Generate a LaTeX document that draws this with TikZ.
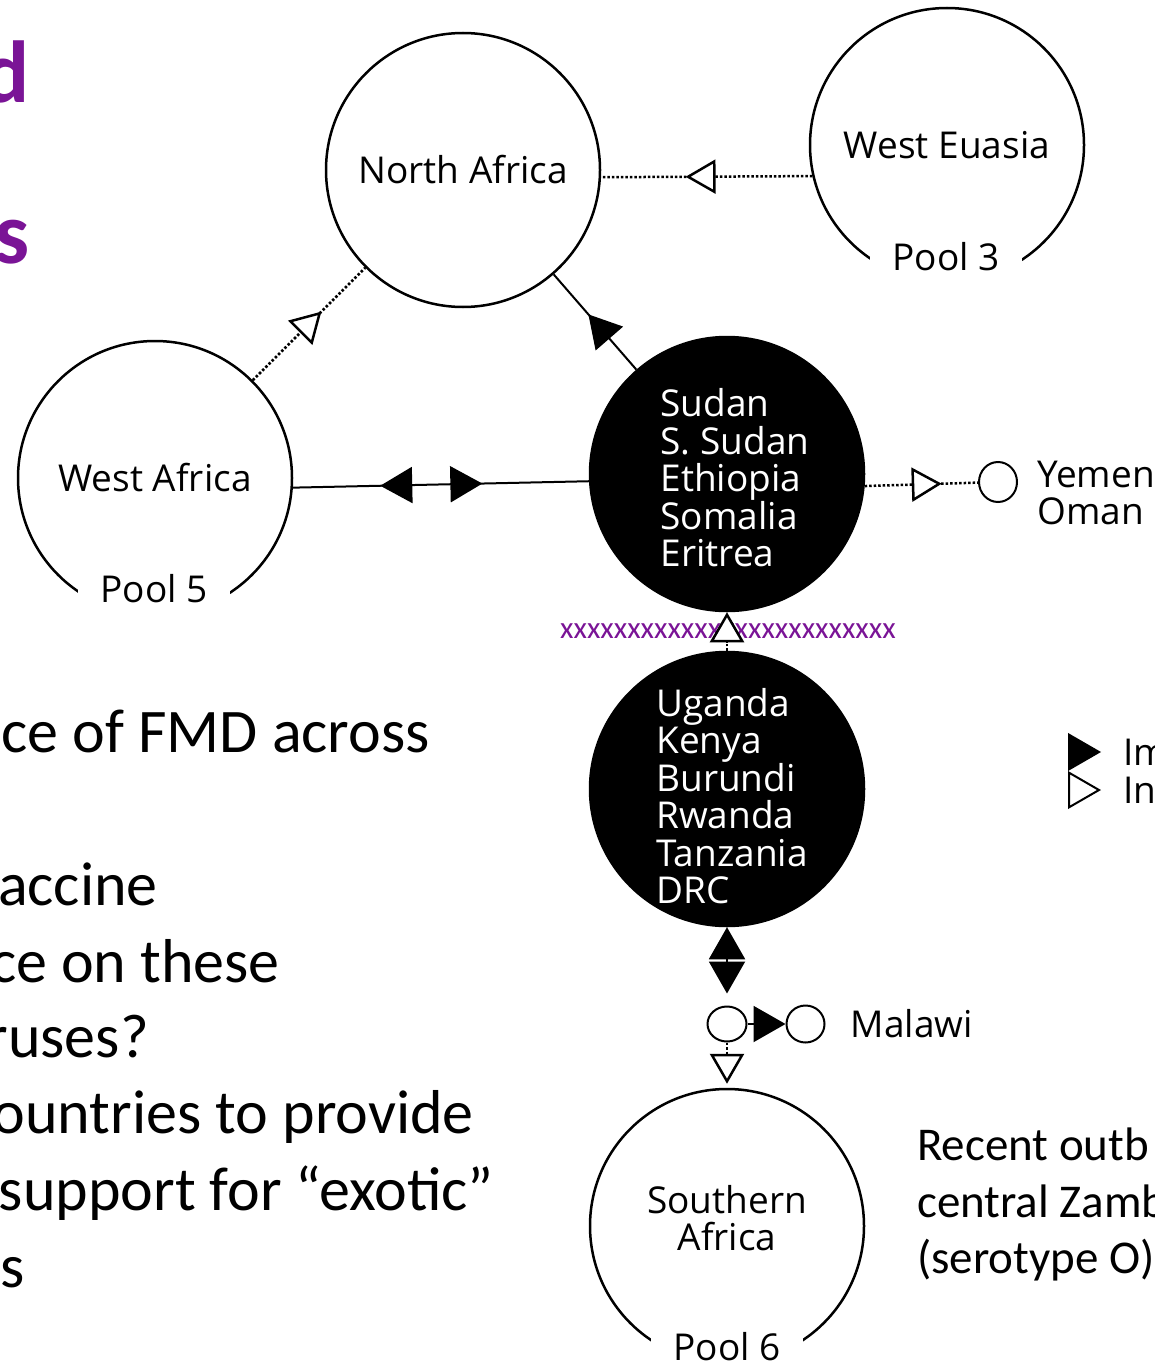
\documentclass[tikz,border=0pt]{standalone}
\usepackage{fontspec}
\setmainfont{Carlito}
\newfontfamily\lblfont{Open Sans}
\usepackage{tikz}
\usetikzlibrary{shapes.geometric,arrows.meta,positioning,decorations.markings}
\definecolor{titlepurple}{RGB}{122,20,150}
\newcommand{\pxsize}[2]{\fontsize{#1}{#2}\selectfont}
\tikzset{
    ImpHead/.tip={Triangle[length=32pt, width=36pt]},
    InfHead/.tip={Triangle[length=30pt, width=34pt, fill=white, line width=2.5pt]},
    midimp/.style={postaction={decorate, decoration={markings, mark=at position #1 with {\arrow{ImpHead}}}}},
    midimprev/.style={postaction={decorate, decoration={markings, mark=at position #1 with {\arrowreversed{ImpHead}}}}},
    midinf/.style={postaction={decorate, decoration={markings, mark=at position #1 with {\arrow{InfHead}}}}}
}
\begin{document}
\begin{tikzpicture}[
    x=1pt, y=-1pt,
    pool/.style={circle, draw, line width=2.5pt, minimum size=274pt, inner sep=0pt, align=center, font=\lblfont\pxsize{37}{37.5}},
    pooldark/.style={pool, fill=black},
    darktext/.style={inner sep=0pt, text=white, align=left, font=\lblfont\pxsize{37}{37.5}},
    poollbl/.style={fill=white, inner xsep=22pt, inner ysep=16pt, font=\lblfont\pxsize{37}{37.5}},
    lbl/.style={inner sep=0pt, align=left, font=\lblfont\pxsize{37}{37.5}},
    dot/.style={ellipse, draw, line width=2pt, minimum width=38pt, minimum height=37pt, inner sep=0pt},
    legtri/.style={regular polygon, regular polygon sides=3, shape border rotate=-90, draw, line width=2pt, minimum size=40pt, inner sep=0pt},
    link/.style={line width=2pt},
    weak/.style={line width=2.5pt, dash pattern=on 2.5pt off 2pt},
    body/.style={inner sep=0pt, font=\pxsize{62}{72}},
    note/.style={inner sep=0pt, font=\pxsize{47}{56}},
    heading/.style={inner sep=0pt, text=titlepurple, font=\bfseries\pxsize{88}{100}},
    barrier/.style={inner sep=0pt, text=titlepurple, font=\pxsize{31}{31}}
]
    \useasboundingbox (0,0) rectangle (1155,1362);
    \clip (0,0) rectangle (1155,1362);

    % slide text
    \node [heading, anchor=base east] (t1) at (30,103) {d};
    \node [heading, anchor=base east] (t2) at (30,263) {s};
    \node [body, anchor=base east] (b1) at (430,752) {ce of FMD across};
    \node [body, anchor=base east] (b2) at (158,905) {accine};
    \node [body, anchor=base east] (b3) at (280,982) {ce on these};
    \node [body, anchor=base east] (b4) at (149,1057) {ruses?};
    \node [body, anchor=base east] (b5) at (474,1133) {ountries to provide};
    \node [body, anchor=base east] (b6) at (494,1210) {support for “exotic”};
    \node [body, anchor=base east] (b7) at (25,1287) {s};
    \node [note, anchor=base west] (r1) at (917,1160) {Recent outb};
    \node [note, anchor=base west] (r2) at (917,1217) {central Zamb};
    \node [note, anchor=base west] (r3) at (917,1273) {(serotype O)};

    % pools
    \node [pool] (na) at (463,170) {North Africa};
    \node [pool] (we) at (947,145) {West Euasia};
    \node [pool] (wa) at (155,478) {West Africa};
    \node [pool] (sa) at (727,1226) {Southern\\Africa\rule[-16pt]{0pt}{16pt}};
    \node [poollbl] (welbl) at (946,257) {Pool 3};
    \node [poollbl] (walbl) at (154,589) {Pool 5};
    \node [poollbl] (salbl) at (727,1347) {Pool 6};
    \node [pooldark] (sd) at (727,474) {};
    \node [darktext] (sdtext) at (735,478) {Sudan\\S. Sudan\\Ethiopia\\Somalia\\Eritrea};
    \node [pooldark] (ug) at (727,789) {};
    \node [darktext] (ugtext) at (732,796) {Uganda\\Kenya\\Burundi\\Rwanda\\Tanzania\\DRC};

    % small countries
    \node [dot, minimum height=40pt] (ye) at (998,482) {};
    \node [lbl, right=19pt of ye, yshift=-11pt] (yelbl) {Yemen\\Oman};
    \node [dot, minimum width=39pt, minimum height=35pt] (jn) at (727,1024) {};
    \node [dot, right=38pt of jn] (ml) {};
    \node [lbl, right=25pt of ml] (mllbl) {Malawi};

    % legend
    \node [legtri, fill=black] (lgimp) at (1079,752) {};
    \node [legtri, fill=white] (lginf) at (1079,790) {};
    \node [lbl, right=22pt of lgimp] (lgimplbl) {Im};
    \node [lbl, right=22pt of lginf] (lginflbl) {In};

    % barrier
    \node [barrier] (xs) at (728,631) {xxxxxxxxxxxxxxxxxxxxxxxxx};

    % links
    \draw [weak, midinf=0.6] (we.193.8) -- (na.-3.3);
    \draw [weak, midinf=0.61] (wa) -- (na);
    \draw [link, midimp=0.58] (sd) -- (na);
    \draw [link, midimp=0.64, midimprev=0.295] (wa.-4.6) -- (sd.183.3);
    \draw [weak, midinf=0.68] (sd.-5) -- (ye);
    \draw [weak, -InfHead] (ug) -- (sd);
    \draw [link, ImpHead-ImpHead, shorten >=12pt] (ug) -- (jn);
    \draw [link, -ImpHead] (jn) -- (ml);
    \draw [weak, -InfHead, shorten >=4pt] (jn) -- (sa);
\end{tikzpicture}
\end{document}
